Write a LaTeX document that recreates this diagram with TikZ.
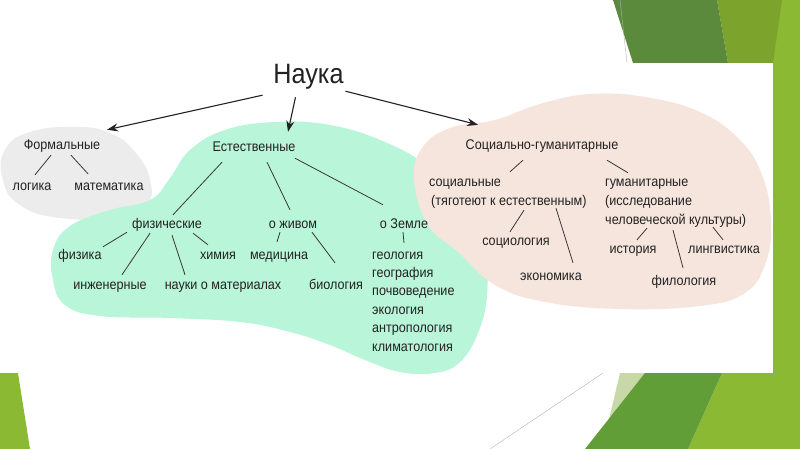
\documentclass[tikz,border=0pt]{standalone}
\usepackage{fontspec}
\setmainfont{Liberation Sans}[FakeStretch=0.9]
\usetikzlibrary{arrows.meta}
\definecolor{leafdark}{RGB}{92,138,60}
\definecolor{leaflight}{RGB}{124,163,43}
\definecolor{leafband}{RGB}{139,185,52}
\definecolor{leafmid}{RGB}{97,158,56}
\definecolor{leafpale}{RGB}{200,216,169}
\definecolor{formalbg}{RGB}{236,236,236}
\definecolor{naturebg}{RGB}{185,245,216}
\definecolor{socialbg}{RGB}{246,229,221}
\definecolor{ink}{RGB}{34,34,34}
\tikzset{
  term/.style={font=\fontsize{14}{17}\selectfont, text=ink, inner sep=0pt,
    text height=10pt, text depth=3pt, anchor=base},
  root/.style={font=\fontsize{28}{32}\selectfont, text=ink, inner sep=0pt,
    text height=20pt, text depth=6pt, anchor=base},
  branch/.style={draw=ink!90, line width=0.8pt},
  pointer/.style={draw=ink, line width=1.1pt, -{Stealth[length=11pt,width=8pt]}},
}

\begin{document}
\begin{tikzpicture}[x=1pt,y=-1pt]
\useasboundingbox (0,0) rectangle (800,449);
% slide decoration
\fill[leafband] (773,0) rectangle (800,449);
\fill[leaflight] (717,0) -- (782,0) -- (773,63) -- (728,63) -- cycle;
\fill[leafdark] (613,0) -- (717,0) -- (728,63) -- (633,63) -- cycle;
\draw[gray!60, line width=0.4pt] (620,0) -- (627,63);
\fill[leafband] (0,373) -- (18,373) -- (30,449) -- (0,449) -- cycle;
\fill[leafband] (722,373) -- (773,373) -- (773,449) -- (688,449) -- cycle;
\fill[leafpale] (620,373) -- (652,373) -- (607,428) -- cycle;
\fill[leafmid] (645,373) -- (722,373) -- (688,449) -- (585,449) -- cycle;
\draw[gray!60, line width=0.4pt] (603,373) -- (490,449);
% picture area
\fill[white] (0,63) rectangle (773,373);
\begin{scope}
  \clip (0,63) rectangle (773,373);
  \fill[formalbg] plot[smooth cycle, tension=0.8] coordinates {(5,150) (30,132) (75,127) (110,133) (135,152) (150,180) (146,205) (115,217) (60,218) (20,205) (3,180)};
  \fill[naturebg] plot[smooth cycle, tension=0.7] coordinates {(53,250) (70,226) (110,210) (150,200) (170,178) (190,150) (225,130) (275,122) (330,125) (385,142) (430,168) (465,205) (484,250) (487,295) (478,333) (460,362) (435,373) (400,372) (365,360) (330,345) (290,332) (240,322) (170,318) (100,316) (65,305) (53,280)};
  \fill[socialbg] plot[smooth cycle, tension=0.7] coordinates {(414,180) (422,148) (450,128) (495,120) (540,104) (590,94) (645,97) (700,112) (740,140) (762,175) (771,220) (766,262) (745,293) (700,306) (620,309) (545,302) (495,285) (458,252) (428,225)};
\end{scope}

% nodes
\node[root] (nauka) at (308.5,84) {Наука};
\node[term] (formal) at (62,150) {Формальные};
\node[term] (logic) at (32,191) {логика};
\node[term] (math) at (109,191) {математика};
\node[term] (estest) at (254,152) {Естественные};
\node[term] (fiz) at (167,229) {физические};
\node[term] (alive) at (293,229) {о живом};
\node[term] (earth) at (404,228) {о Земле};
\node[term] (fizika) at (80,259) {физика};
\node[term] (chem) at (218,259) {химия};
\node[term] (med) at (279,259) {медицина};
\node[term] (ingen) at (110,289) {инженерные};
\node[term] (nauki) at (223,289) {науки о материалах};
\node[term] (bio) at (336,289) {биология};
\foreach \name [count=\i] in {геология,география,почвоведение,экология,антропология,климатология}
  \node[term, anchor=base west] (geo\i) at (372,240.6+18.4*\i) {\name};
\node[term] (sochum) at (542,150) {Социально-гуманитарные};
\node[term, anchor=base west] (soc) at (429,187) {социальные};
\node[term, anchor=base west] (socnote) at (431,206) {(тяготеют к естественным)};
\node[term, anchor=base west] (hum) at (605,187) {гуманитарные};
\node[term, anchor=base west] (humnote) at (605,206) {(исследование};
\node[term, anchor=base west] (humculture) at (605,225) {человеческой культуры)};
\node[term] (socio) at (516,245) {социология};
\node[term] (econ) at (551,280) {экономика};
\node[term] (hist) at (633,253) {история};
\node[term] (ling) at (724,253) {лингвистика};
\node[term] (philo) at (684,285) {филология};

% arrows from the root
\draw[pointer] ([xshift=-46pt,yshift=-5pt]nauka.south) -- ([xshift=45pt,yshift=10pt]formal.north);
\draw[pointer] ([xshift=-13pt,yshift=-7pt]nauka.south) -- ([xshift=34pt,yshift=10pt]estest.north);
\draw[pointer] ([xshift=37pt,yshift=-1pt]nauka.south) -- ([xshift=-64pt,yshift=15pt]sochum.north);

% branches
\draw[branch] ([xshift=-11pt,yshift=-2pt]formal.south) -- ([xshift=3pt,yshift=6pt]logic.north);
\draw[branch] ([xshift=9pt,yshift=-2pt]formal.south) -- ([xshift=-21pt,yshift=7pt]math.north);
\draw[branch] ([xshift=-32pt,yshift=-7pt]estest.south) -- ([xshift=6pt,yshift=4pt]fiz.north);
\draw[branch] ([xshift=13pt,yshift=-7pt]estest.south) -- ([xshift=-3pt,yshift=9pt]alive.north);
\draw[branch] ([xshift=41pt,yshift=-3pt]estest.south) -- ([xshift=-21pt,yshift=13pt]earth.north);
\draw[branch] ([xshift=-40pt]fiz.south) -- ([xshift=23pt,yshift=2pt]fizika.north);
\draw[branch] ([xshift=-17pt,yshift=-1pt]fiz.south) -- ([xshift=12pt,yshift=4pt]ingen.north);
\draw[branch] ([xshift=5pt,yshift=-3pt]fiz.south) -- ([xshift=-38pt,yshift=4pt]nauki.north);
\draw[branch] ([xshift=26pt,yshift=-1pt]fiz.south) -- ([xshift=-10pt,yshift=4pt]chem.north);
\draw[branch] ([xshift=-13pt]alive.south) -- ([xshift=-2pt,yshift=7pt]med.north);
\draw[branch] ([xshift=19pt]alive.south) -- ([xshift=-1pt,yshift=16pt]bio.north);
\draw[branch] ([xshift=-1pt,yshift=-1pt]earth.south) -- ([yshift=6pt]earth.south |- geo1.north);
\draw[branch] ([xshift=-19pt,yshift=-7pt]sochum.south) -- ([xshift=81pt,yshift=5pt]soc.north west);
\draw[branch] ([xshift=65pt,yshift=-7pt]sochum.south) -- ([xshift=23pt,yshift=4pt]hum.north west);
\draw[branch] ([xshift=93pt,yshift=-1pt]socnote.south west) -- ([xshift=-6pt,yshift=3pt]socio.north);
\draw[branch] ([xshift=125pt,yshift=1pt]socnote.south west) -- ([xshift=22pt,yshift=7pt]econ.north);
\draw[branch] ([xshift=42pt]humculture.south west) -- ([xshift=4pt,yshift=3pt]hist.north);
\draw[branch] ([xshift=68pt,yshift=-2pt]humculture.south west) -- ([xshift=-1pt,yshift=7pt]philo.north);
\draw[branch] ([xshift=108pt,yshift=1pt]humculture.south west) -- ([xshift=-1pt,yshift=3pt]ling.north);
\end{tikzpicture}
\end{document}
